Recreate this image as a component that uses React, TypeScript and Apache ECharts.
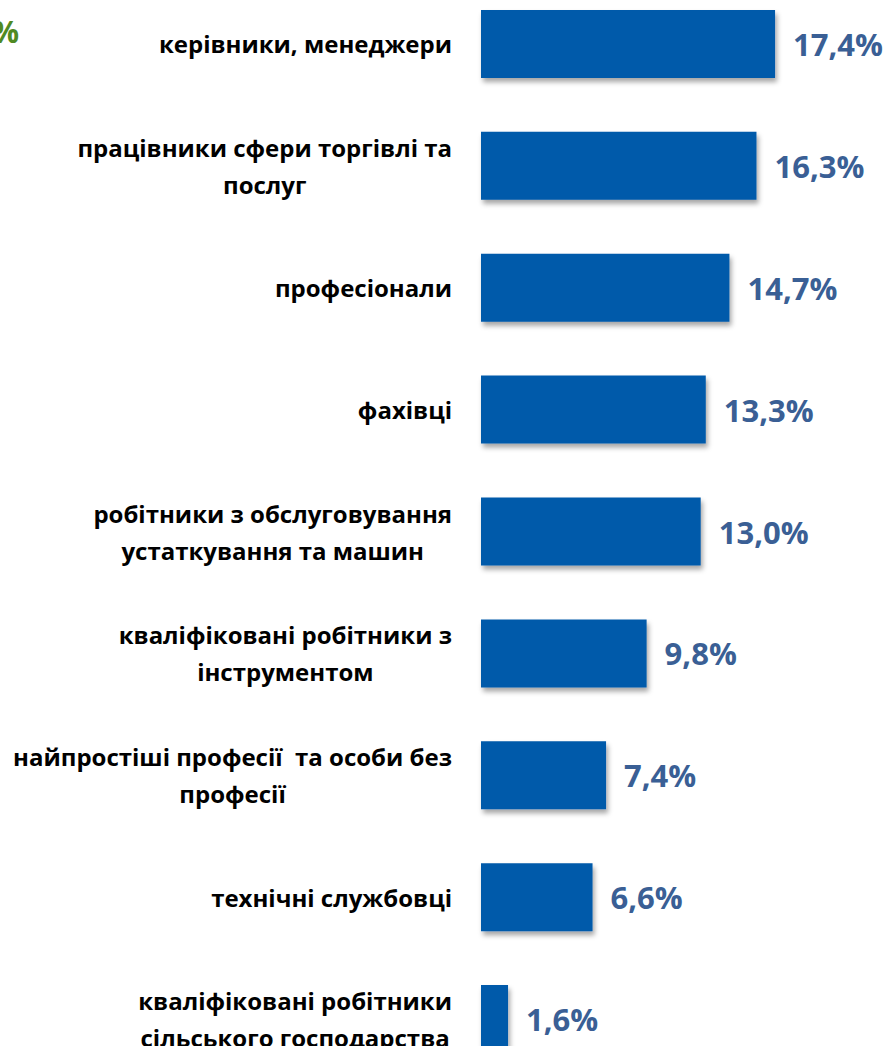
import React, { useEffect, useRef } from "react";
import * as echarts from "echarts";

const categories: string[] = [
  "керівники, менеджери",
  "працівники сфери торгівлі та\nпослуг",
  "професіонали",
  "фахівці",
  "робітники з обслуговування\nустаткування та машин",
  "кваліфіковані робітники з\nінструментом",
  "найпростіші професії  та особи без\nпрофесії",
  "технічні службовці",
  "кваліфіковані робітники\nсільського господарства",
];

const values: number[] = [17.4, 16.3, 14.7, 13.3, 13.0, 9.8, 7.4, 6.6, 1.6];

const headerText = "%";

export default function App() {
  const ref = useRef<HTMLDivElement>(null);

  useEffect(() => {
    if (!ref.current) return;
    const chart = echarts.init(ref.current, null, { renderer: "svg" });
    chart.setOption({
      animation: false,
      backgroundColor: "#ffffff",
      grid: {
        left: 481,
        right: 70,
        top: -17,
        bottom: -34,
        containLabel: false,
        outerBoundsMode: "none",
      },
      xAxis: {
        type: "value",
        min: 0,
        max: 20,
        show: false,
      },
      yAxis: {
        type: "category",
        inverse: true,
        data: categories,
        axisLine: { show: false },
        axisTick: { show: false },
        axisLabel: {
          margin: 29,
          align: "right",
          formatter: (v: string) =>
            v
              .split("\n")
              .map((l) => "{c|" + l + "}")
              .join("\n"),
          rich: {
            c: {
              align: "center",
              fontFamily: "Open Sans",
              fontWeight: "bold",
              fontSize: 24,
              lineHeight: 37,
              color: "#000000",
            },
          },
        },
      },
      graphic: [
        {
          type: "text",
          x: 19,
          y: 16,
          style: {
            text: headerText,
            align: "right",
            verticalAlign: "top",
            font: 'bold 30px "Open Sans"',
            fill: "#4F8A23",
          },
        },
      ],
      series: [
        {
          type: "bar",
          data: values,
          barWidth: 68,
          itemStyle: {
            color: "#005AAA",
            shadowBlur: 5,
            shadowOffsetX: 2,
            shadowOffsetY: 4,
            shadowColor: "rgba(0,0,0,0.35)",
          },
          label: {
            show: true,
            position: "right",
            distance: 18,
            formatter: (p: any) => p.value.toFixed(1).replace(".", ",") + "%",
            fontFamily: "Open Sans",
            fontWeight: "bold",
            fontSize: 31,
            color: "#3A5F95",
          },
        },
      ],
    });
    return () => chart.dispose();
  }, []);

  return (
    <div
      ref={ref}
      style={{ position: "absolute", left: 0, top: 0, width: 889, height: 1046 }}
    />
  );
}
